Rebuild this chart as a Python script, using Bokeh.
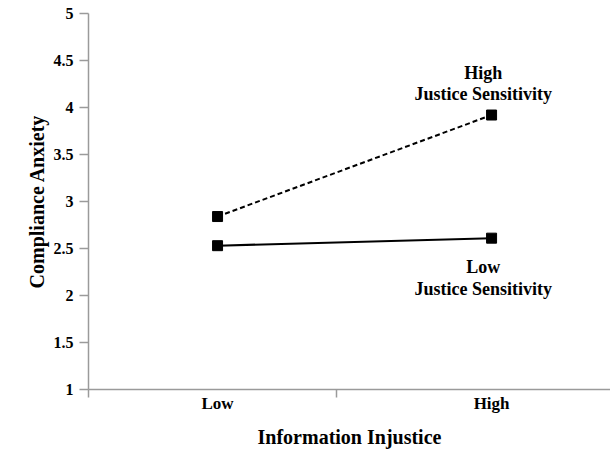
from bokeh.plotting import figure
from bokeh.models import FixedTicker, Label, Range1d
from bokeh.embed import file_html
from bokeh.resources import INLINE

# data
categories = ["Low", "High"]
x_pos = [1, 2]
high_js = [2.84, 3.92]
low_js = [2.53, 2.61]
y_ticks = [1, 1.5, 2, 2.5, 3, 3.5, 4, 4.5, 5]
y_tick_labels = ["1", "1.5", "2", "2.5", "3", "3.5", "4", "4.5", "5"]
high_label = ["High", "Justice Sensitivity"]
low_label = ["Low", "Justice Sensitivity"]

FONT = "Liberation Serif"
AXIS_COLOR = "#9a9a9a"

p = figure(frame_width=522, frame_height=376, output_backend="svg", toolbar_location=None,
           x_range=Range1d(0.529, 2.434), y_range=Range1d(1, 5.0),
           min_border_left=88, min_border_right=0, min_border_top=13, min_border_bottom=56)
p.background_fill_color = "white"
p.border_fill_color = "white"
p.outline_line_color = None
p.xgrid.visible = False
p.ygrid.visible = False

# lines
p.line(x_pos, high_js, line_color="black", line_width=2, line_dash="5 3")
p.line(x_pos, low_js, line_color="black", line_width=2)
p.scatter(x_pos, high_js, marker="square", size=10, color="black")
p.scatter(x_pos, low_js, marker="square", size=10, color="black")

# y axis
ya = p.yaxis[0]
ya.ticker = FixedTicker(ticks=y_ticks)
ya.major_label_overrides = {t: l for t, l in zip(y_ticks, y_tick_labels)}
ya.axis_line_color = AXIS_COLOR
ya.axis_line_width = 1.5
ya.major_tick_line_color = AXIS_COLOR
ya.major_tick_line_width = 1.5
ya.major_tick_in = 0
ya.major_tick_out = 9
ya.minor_tick_line_color = None
ya.major_label_standoff = 6
ya.major_label_text_font = FONT
ya.major_label_text_font_style = "bold"
ya.major_label_text_font_size = "16px"
ya.major_label_text_color = "black"
ya.axis_label = "Compliance Anxiety"
ya.axis_label_text_font = FONT
ya.axis_label_text_font_style = "bold"
ya.axis_label_text_font_size = "20px"
ya.axis_label_text_color = "black"
ya.axis_label_standoff = 3

# x axis
xa = p.xaxis[0]
xa.ticker = FixedTicker(ticks=x_pos, minor_ticks=[0.529, 1.434])
xa.major_label_overrides = {x: c for x, c in zip(x_pos, categories)}
xa.axis_line_color = AXIS_COLOR
xa.axis_line_width = 1.5
xa.major_tick_line_color = None
xa.major_tick_in = 0
xa.major_tick_out = 0
xa.minor_tick_line_color = AXIS_COLOR
xa.minor_tick_line_width = 1.5
xa.minor_tick_in = 0
xa.minor_tick_out = 8
xa.major_label_standoff = -4
xa.major_label_text_font = FONT
xa.major_label_text_font_style = "bold"
xa.major_label_text_font_size = "17px"
xa.major_label_text_color = "black"
xa.axis_label = "Information Injustice"
xa.axis_label_text_font = FONT
xa.axis_label_text_font_style = "bold"
xa.axis_label_text_font_size = "20px"
xa.axis_label_text_color = "black"
xa.axis_label_standoff = 10

# annotations
for txt, y in zip(high_label, [4.37, 4.14]):
    p.add_layout(Label(x=1.97, y=y, text=txt, text_align="center", text_baseline="middle",
                       text_font=FONT, text_font_style="bold", text_font_size="18px",
                       text_color="black"))
for txt, y in zip(low_label, [2.30, 2.07]):
    p.add_layout(Label(x=1.97, y=y, text=txt, text_align="center", text_baseline="middle",
                       text_font=FONT, text_font_style="bold", text_font_size="18px",
                       text_color="black"))

open("out.html", "w").write(file_html(p, INLINE))
